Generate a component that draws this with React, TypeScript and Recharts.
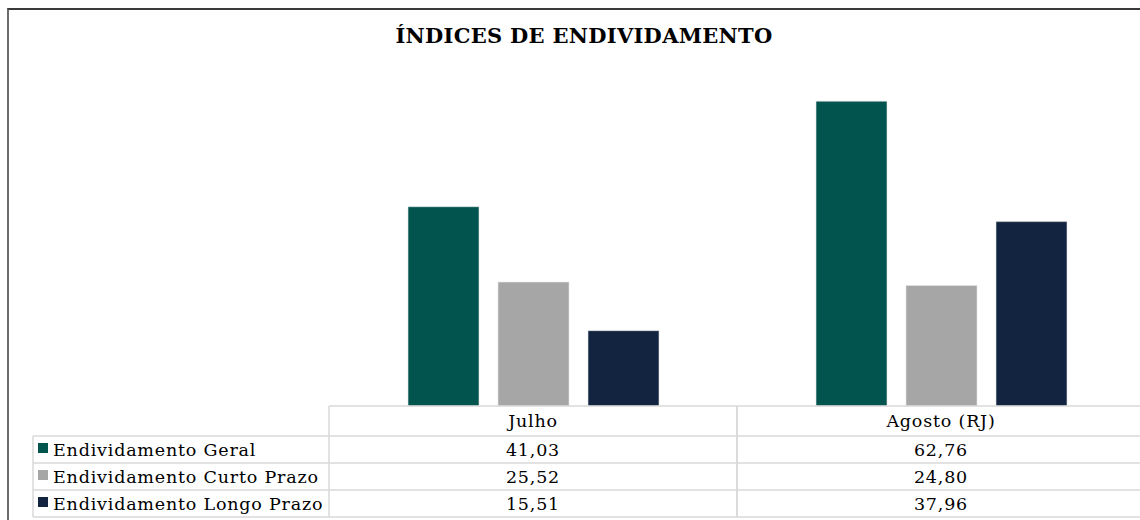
import { BarChart, Bar, XAxis, YAxis } from 'recharts';

const categories = ['Julho', 'Agosto (RJ)'];
const endividamentoGeral = [41.03, 62.76];
const endividamentoCurtoPrazo = [25.52, 24.8];
const endividamentoLongoPrazo = [15.51, 37.96];

const seriesKeys = ['geral', 'curto', 'longo'];
const seriesNames = ['Endividamento Geral', 'Endividamento Curto Prazo', 'Endividamento Longo Prazo'];
const seriesColors = ['#02544f', '#a6a6a6', '#12243f'];

const data = categories.map((name, i) => ({
  name,
  geral: endividamentoGeral[i],
  curto: endividamentoCurtoPrazo[i],
  longo: endividamentoLongoPrazo[i],
}));

const W = 1145;
const H = 520;
const MARGIN = { top: 66, right: 0, left: 329, bottom: 3 };
const AXIS_H = 111;
const HEADER_H = 30;
const ROW_H = 27;
const PLOT_BOTTOM = H - MARGIN.bottom - AXIS_H;
const COL_W = (W - MARGIN.left - MARGIN.right) / categories.length;
const LABEL_LEFT = 33;
const FONT = '"DejaVu Serif", serif';
const GRID = '#d9d9d9';
const TXT = { fontFamily: FONT, fontSize: 17.5, letterSpacing: 0.8, fill: '#000' };

const fmt = (n: number) => n.toFixed(2).replace('.', ',');

// eixo X desenhado como tabela de dados
const TableTick = (props: any) => {
  const { x, payload, index } = props;
  const left = x - COL_W / 2;
  const top = PLOT_BOTTOM;
  const bottom = top + HEADER_H + ROW_H * seriesKeys.length;
  const row = data[index];
  return (
    <g>
      <line x1={left} y1={top} x2={left} y2={bottom} stroke={GRID} strokeWidth={1.5} />
      <line x1={left + COL_W} y1={top} x2={left + COL_W} y2={bottom} stroke={GRID} strokeWidth={1.5} />
      <text x={x} y={top + 21} textAnchor='middle' {...TXT}>
        {payload.value}
      </text>
      {seriesKeys.map((k, r) => (
        <g key={k}>
          <line x1={left} y1={top + HEADER_H + r * ROW_H} x2={left + COL_W} y2={top + HEADER_H + r * ROW_H} stroke={GRID} strokeWidth={1.5} />
          <text x={x} y={top + HEADER_H + r * ROW_H + 20} textAnchor='middle' {...TXT}>
            {fmt((row as any)[k])}
          </text>
        </g>
      ))}
      <line x1={left} y1={bottom} x2={left + COL_W} y2={bottom} stroke={GRID} strokeWidth={1.5} />
      {index === 0 && (
        <g>
          <line x1={LABEL_LEFT} y1={top + HEADER_H} x2={LABEL_LEFT} y2={bottom} stroke={GRID} strokeWidth={1.5} />
          {seriesNames.map((s, r) => {
            const y0 = top + HEADER_H + r * ROW_H;
            return (
              <g key={s}>
                <line x1={LABEL_LEFT} y1={y0} x2={left} y2={y0} stroke={GRID} strokeWidth={1.5} />
                <rect x={LABEL_LEFT + 5} y={y0 + 7} width={10} height={10} fill={seriesColors[r]} />
                <text x={LABEL_LEFT + 20} y={y0 + 20} {...TXT}>
                  {s}
                </text>
              </g>
            );
          })}
          <line x1={LABEL_LEFT} y1={bottom} x2={left} y2={bottom} stroke={GRID} strokeWidth={1.5} />
        </g>
      )}
    </g>
  );
};

export default function App() {
  return (
    <div style={{ position: 'absolute', left: 0, top: 0, width: 1140, height: 520, overflow: 'hidden', background: '#fff' }}>
      <div
        style={{
          position: 'absolute',
          left: 7,
          top: 8,
          width: 1200,
          height: 600,
          borderTop: '2px solid #3a3a3a',
          borderLeft: '2px solid #6b6b6b',
        }}
      />
      <svg style={{ position: 'absolute', left: 0, top: 0 }} width={1140} height={60}>
        <text x={584} y={43} textAnchor='middle' fontFamily={FONT} fontWeight='bold' fontSize={21} letterSpacing={0.3} fill='#000'>
          ÍNDICES DE ENDIVIDAMENTO
        </text>
      </svg>
      <div style={{ position: 'absolute', left: 0, top: 0 }}>
        <BarChart width={W} height={H} data={data} margin={MARGIN} barSize={71} barGap={19}>
          <XAxis
            dataKey='name'
            height={AXIS_H}
            interval={0}
            tickLine={false}
            axisLine={{ stroke: GRID, strokeWidth: 1.5 }}
            tick={<TableTick />}
          />
          <YAxis hide domain={[0, 70]} />
          {seriesKeys.map((k, i) => (
            <Bar
              key={k}
              dataKey={k}
              name={seriesNames[i]}
              fill={seriesColors[i]}
              stroke='#e6e6e6'
              strokeWidth={0.6}
              isAnimationActive={false}
            />
          ))}
        </BarChart>
      </div>
    </div>
  );
}
